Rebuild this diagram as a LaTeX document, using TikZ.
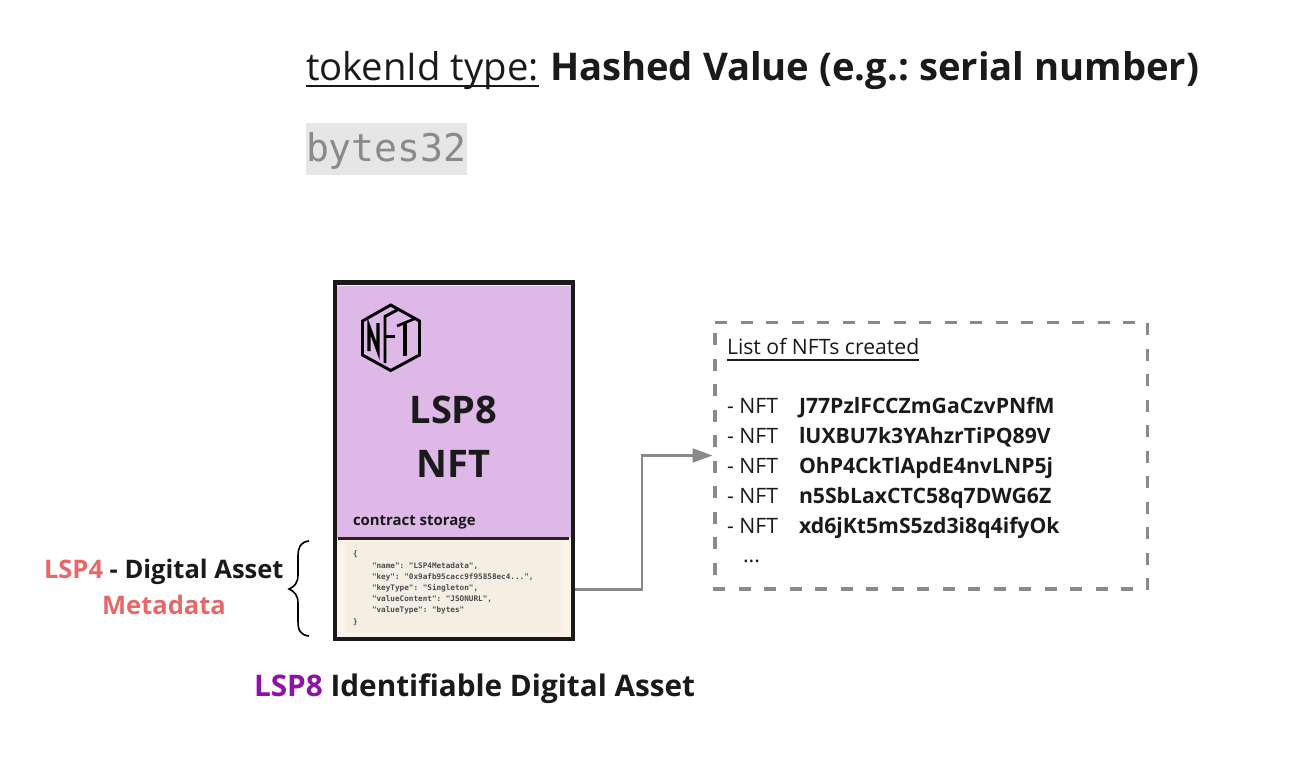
\documentclass[tikz,border=0pt]{standalone}
\usepackage{fontspec}
\setmainfont{Open Sans}
\setmonofont{DejaVu Sans Mono}
\usetikzlibrary{arrows.meta,calc}
\frenchspacing
\definecolor{ink}{HTML}{1A1A1A}
\definecolor{cardpurple}{HTML}{DEB8E6}
\definecolor{cardcream}{HTML}{FBF3E8}
\definecolor{cardpanel}{HTML}{F5EEE3}
\definecolor{cardline}{HTML}{2A2320}
\definecolor{salmon}{HTML}{E8686A}
\definecolor{lspviolet}{HTML}{8E12A8}
\definecolor{midgray}{HTML}{8A8A8A}
\definecolor{codebg}{HTML}{E6E6E6}
\newcommand{\fs}[1]{\fontsize{#1}{#1}\selectfont}
\tikzset{
  x=0.75pt,y=-0.75pt,
  txt/.style={anchor=base west,inner sep=0pt,outer sep=0pt,text=ink},
  ctr/.style={anchor=base,inner sep=0pt,outer sep=0pt,text=ink},
  nftrow/.style={txt,font=\fs{15.9}},
  codeline/.style={txt,font=\ttfamily\bfseries\fs{5.75},text=black!70},
  conn/.style={draw=midgray,line width=1.6pt},
  logo/.style={draw=black,line width=2.2pt,line join=miter},
}
\begin{document}
\begin{tikzpicture}
\useasboundingbox (0,0) rectangle (1312,761);
\node[txt,font=\fs{28.7}] (tt) at (306,80) {tokenId type:};
\draw[ink,line width=1.5pt] ($(tt.base west)+(0,6)$) -- ($(tt.base east)+(0,6)$);
\node[txt,font=\bfseries\fs{28.65}] (tv) at (550,80) {Hashed Value (e.g.: serial number)};
\node[anchor=north west,fill=codebg,minimum width=120.75pt,minimum height=39pt,inner sep=0pt] (cb) at (306,123) {};
\node[txt,font=\ttfamily\fs{28.6},text=midgray] (bt) at (306,161) {bytes32};
% card
\path[fill=cardcream] (334,538) rectangle (573,640);
\path[fill=cardpanel] (345,541) rectangle (561.5,633);
\path[fill=cardpurple] (336,285) rectangle (571,538);
\path[fill=white!75!cardpurple] (336,284) rectangle (571,286);
\draw[black!90,line width=3.3pt] (335,282.3) rectangle (572.7,639);
\draw[cardline,line width=2.2pt] (338,538.5) -- (569,538.5);
\coordinate (storeout) at (574.5,589.5);
% logo
\draw[logo] (390.7,305) -- (419.5,321) -- (419.5,355) -- (390.7,370.5) -- (362.5,355) -- (362.5,321) -- cycle;
\draw[logo,line width=2.4pt] (369,351) -- (369,326.5) -- (378,351) -- (378,323);
\draw[logo,line width=2.2pt] (385,363) -- (385,316.5) -- (398,309.5);
\draw[logo,line width=2.2pt] (385,336.5) -- (395,336.5);
\draw[logo,line width=2pt] (397,326) -- (414,319);
\draw[logo,line width=2.4pt] (405,322.5) -- (405,356);
\node[ctr,font=\bfseries\fs{28.5}] (l1) at (453.5,423) {LSP8};
\node[ctr,font=\bfseries\fs{28.5}] (l2) at (453.5,477) {NFT};
\node[txt,font=\bfseries\fs{11.2}] (cs) at (353,525) {contract storage};
\node[codeline] (c1) at (353,556) {\{};
\node[codeline] (c2) at (372,568) {"name": "LSP4Metadata",};
\node[codeline] (c3) at (372,579.5) {"key": "0x9afb95cacc9f95858ec4...",};
\node[codeline] (c4) at (372,590.5) {"keyType": "Singleton",};
\node[codeline] (c5) at (372,601.5) {"valueContent": "JSONURL",};
\node[codeline] (c6) at (372,612.5) {"valueType": "bytes"};
\node[codeline] (c7) at (353,624) {\}};
% brace
\draw[black,line width=1.2pt] (309,541) .. controls (300,542) and (298,548) .. (298,556) -- (298,575) .. controls (298,583) and (294,587) .. (289,589) .. controls (294,591) and (298,595) .. (298,603) -- (298,621) .. controls (298,630) and (300,635) .. (309,636);
\node[txt,font=\bfseries\fs{19.15}] (m1) at (44,578) {\textcolor{salmon}{LSP4} - Digital Asset};
\node[ctr,font=\bfseries\fs{19.15},text=salmon] (m2) at (164,614) {Metadata};
\node[txt,font=\bfseries\fs{22.3}] (cap) at (254,696) {\textcolor{lspviolet}{LSP8} Identifiable Digital Asset};
% list box: each side has its own dash run
\draw[midgray,line width=2.8pt,dash pattern=on 9.2pt off 9.925pt]
  (715,322.5) -- (1136,322.5)
  (1147.5,323) -- (1147.5,591)
  (713,589) -- (1134,589)
  (714.7,333) -- (714.7,575);
\coordinate (boxin) at (712.5,455.5);
\draw[conn,-{Triangle[length=15pt,width=10.5pt]}] (storeout) -- (642,589.5) -- (642,455.5) -- (boxin);
\node[txt,font=\fs{15.9}] (lt) at (727,354) {List of NFTs created};
\draw[ink,line width=1pt] ($(lt.base west)+(0,6)$) -- ($(lt.base east)+(0,6)$);
\foreach \nm/\yy/\code in {a/413/J77PzlFCCZmGaCzvPNfM,b/443/lUXBU7k3YAhzrTiPQ89V,c/473/OhP4CkTlApdE4nvLNP5j,d/503/n5SbLaxCTC58q7DWG6Z,e/533/xd6jKt5mS5zd3i8q4ifyOk}{
  \node[nftrow] (d\nm) at (727,\yy) {- NFT};
  \node[nftrow,font=\bfseries\fs{15.9}] (k\nm) at (799,\yy) {\code};
}
\node[nftrow] (dots) at (743,562) {...};
\end{tikzpicture}
\end{document}
